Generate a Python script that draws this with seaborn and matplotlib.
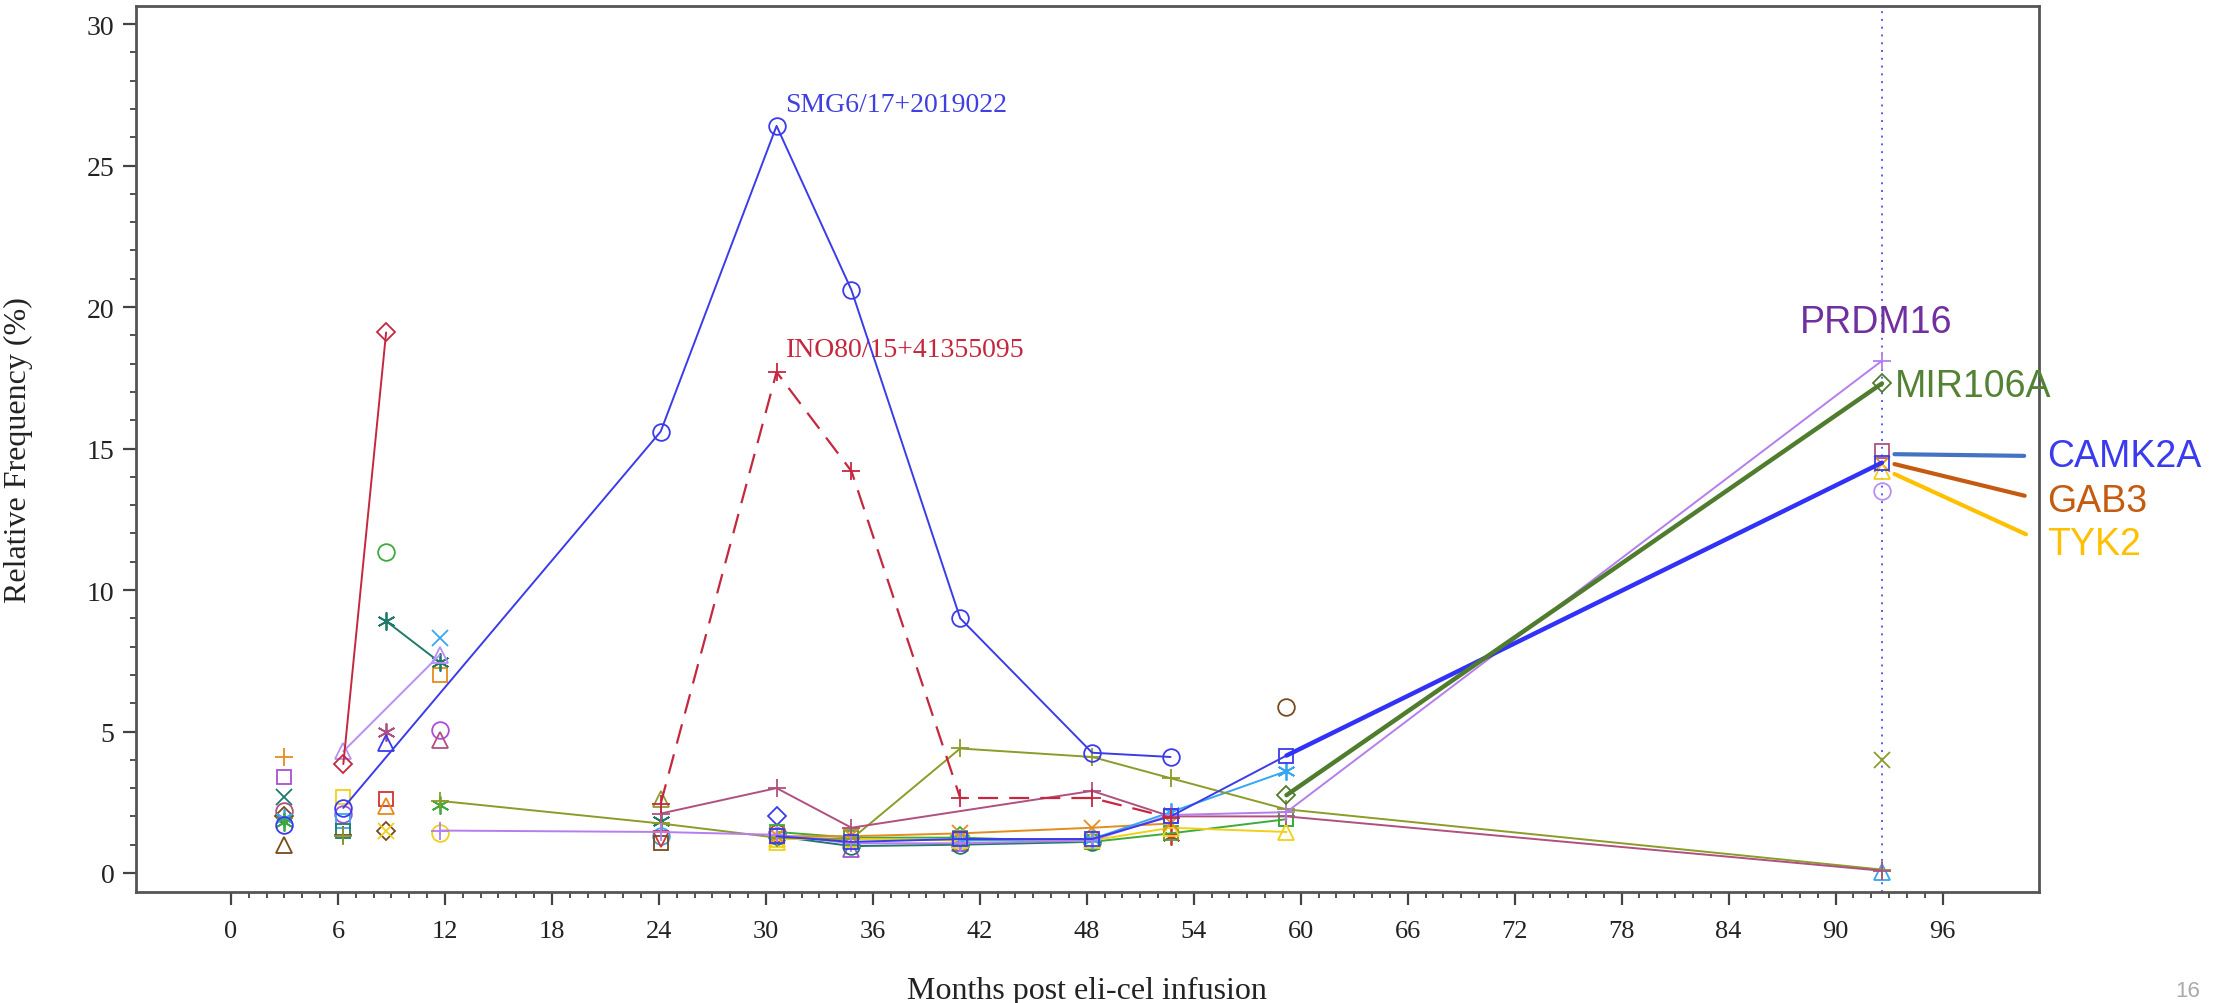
import matplotlib
matplotlib.use('Agg')
import seaborn as sns
import matplotlib.pyplot as plt

sns.set_theme(style='ticks')
plt.rcParams['font.family'] = ['Liberation Serif', 'DejaVu Serif']

# ---- data: months post infusion / relative frequency (%) ----
last_visit = 92.6

smg6_x = [6.3, 24.1, 30.6, 34.8, 40.9, 48.3, 52.7]
smg6_y = [2.3, 15.6, 26.4, 20.6, 9.0, 4.25, 4.1]

ino80_x = [24.1, 30.6, 34.8, 40.9, 48.3, 52.7]
ino80_y = [2.45, 17.7, 14.2, 2.65, 2.65, 1.95]

reddiam_x = [6.3, 8.7]
reddiam_y = [3.85, 19.1]

tealstar_x = [8.7, 11.7]
tealstar_y = [8.9, 7.45]

lavtri_x = [6.3, 11.7]
lavtri_y = [4.3, 7.7]

olive_x = [11.7, 24.1, 30.6, 34.8, 40.9, 48.3, 52.7, 59.2, 92.6]
olive_y = [2.55, 1.75, 1.25, 1.2, 4.4, 4.1, 3.35, 2.25, 0.12]

mauve_x = [24.1, 30.6, 34.8, 48.3, 52.7, 59.2, 92.6]
mauve_y = [2.1, 3.0, 1.6, 2.9, 2.0, 2.0, 0.08]

prdm16_x = [11.7, 24.1, 30.6, 34.8, 40.9, 48.3, 52.7, 59.2, 92.6]
prdm16_y = [1.5, 1.45, 1.35, 1.05, 1.05, 1.15, 2.05, 2.15, 18.1]

camk2a_x = [30.6, 34.8, 40.9, 48.3, 52.7, 59.2, 92.6]
camk2a_y = [1.3, 1.1, 1.2, 1.2, 2.0, 4.15, 14.5]

mir106a_x = [59.2, 92.6]
mir106a_y = [2.75, 17.3]

ltblue_x = [40.9, 48.3, 52.7, 59.2]
ltblue_y = [1.15, 1.2, 2.15, 3.6]

orange_x = [30.6, 34.8, 40.9, 48.3, 52.7]
orange_y = [1.3, 1.3, 1.4, 1.6, 1.75]

yellow_x = [30.6, 34.8, 40.9, 48.3, 52.7, 59.2]
yellow_y = [1.2, 1.2, 1.15, 1.15, 1.6, 1.45]

green_x = [30.6, 34.8, 40.9, 48.3, 52.7, 59.2]
green_y = [1.45, 1.25, 1.25, 1.1, 1.4, 1.9]

teal_x = [30.6, 34.8, 40.9, 48.3]
teal_y = [1.3, 0.95, 1.0, 1.1]

# single-visit clones
dot_month = [3.0, 3.0, 3.0, 3.0, 3.0, 3.0, 3.0, 3.0, 3.0,
             6.3, 6.3, 6.3, 6.3, 6.3, 6.3,
             8.7, 8.7, 8.7, 8.7, 8.7, 8.7, 8.7,
             11.7, 11.7, 11.7, 11.7, 11.7, 11.7,
             24.1, 24.1, 24.1, 24.1, 24.1,
             30.6, 30.6, 30.6,
             34.8, 34.8,
             40.9, 40.9, 40.9,
             52.7, 52.7,
             59.2, 59.2,
             92.6, 92.6, 92.6, 92.6, 92.6, 92.6]
dot_value = [4.1, 3.4, 2.7, 2.2, 2.0, 1.95, 1.8, 1.7, 1.0,
             2.7, 2.1, 1.85, 1.5, 1.35, 1.3,
             11.35, 5.0, 4.6, 2.6, 2.35, 1.5, 1.5,
             8.3, 7.0, 5.05, 4.7, 2.4, 1.4,
             2.6, 1.85, 1.3, 1.2, 1.05,
             2.0, 1.4, 1.1,
             1.3, 0.85,
             1.1, 1.3, 1.05,
             2.0, 1.3,
             5.85, 1.9,
             14.9, 14.45, 14.2, 13.5, 4.0, 0.05]
dot_group = ['orange+', 'purple_s', 'teal_x', 'mauve_o', 'brown_D', 'ltblue_ast', 'green_ast', 'blue_o', 'brown_^',
             'yellow_s', 'purple_o', 'ltblue_s', 'teal_s', 'brown+', 'olive+',
             'green_o', 'mauve_ast', 'blue_^', 'red_s', 'orange_^', 'brown_D', 'yellow_x',
             'ltblue_x', 'orange_s', 'purple_o', 'mauve_^', 'green_ast', 'yellow_o',
             'olive_^', 'teal_ast', 'ltblue_o', 'red_v', 'brown_s',
             'blue_D', 'red_o', 'yellow_^',
             'olive_s', 'purple_^',
             'orange_o', 'green_D', 'purple_^',
             'purple_s', 'red_ast',
             'brown_o', 'green_s',
             'mauve_s', 'orange_x', 'yellow_^', 'lav_o', 'olive_x', 'ltblue_^']

# ---- styles ----
COL = {'blue': '#3b3bea', 'crimson': '#c4283f', 'teal': '#1f7a6b', 'lav': '#b78ff5',
       'olive': '#8c9b2a', 'mauve': '#b0507f', 'violet': '#b57ded', 'ltblue': '#36a6f2',
       'orange': '#e48c1c', 'yellow': '#f0d018', 'green': '#3daa3d', 'brown': '#7b4a1c',
       'purple': '#a84fd6', 'red': '#d03434'}
AST = (6, 2, 0)
MK = {'o': 'o', 's': 's', 'x': 'x', '+': '+', 'D': 'D', '^': '^', 'v': 'v', 'ast': AST}
MS = {'o': 12, 's': 10.5, 'x': 11, '+': 13, 'D': 9, '^': 12, 'v': 12, AST: 13}


def draw(ax, xs, ys, color, marker, ls='-', lw=1.4, z=3):
    sns.lineplot(x=xs, y=ys, ax=ax, color=color, marker=marker, linestyle=ls,
                 linewidth=lw, markersize=MS[marker], markerfacecolor='none',
                 markeredgecolor=color, markeredgewidth=1.3, errorbar=None,
                 sort=False, zorder=z, legend=False)


fig = plt.figure(figsize=(22.29, 10.04), dpi=100)
ax = fig.add_axes([0.061, 0.1106, 0.8537, 0.8825])

# background clones
for gkey, m, v in zip(dot_group, dot_month, dot_value):
    if '+' in gkey:
        cname, mname = gkey[:-1], '+'
    else:
        cname, mname = gkey.split('_')
    draw(ax, [m], [v], COL[cname], MK[mname], z=2)

# bundle of low-level clones
draw(ax, teal_x, teal_y, COL['teal'], 'o', z=2)
draw(ax, green_x, green_y, COL['green'], 's', z=2)
draw(ax, yellow_x, yellow_y, COL['yellow'], '^', z=2)
draw(ax, orange_x, orange_y, COL['orange'], 'x', z=2)
draw(ax, ltblue_x, ltblue_y, COL['ltblue'], AST, z=2)
draw(ax, olive_x, olive_y, COL['olive'], '+', z=2)
draw(ax, mauve_x, mauve_y, COL['mauve'], '+', z=3)
draw(ax, prdm16_x, prdm16_y, COL['violet'], '+', z=3)
draw(ax, camk2a_x, camk2a_y, COL['blue'], 's', z=3)
draw(ax, tealstar_x, tealstar_y, COL['teal'], AST, z=3)
draw(ax, lavtri_x, lavtri_y, COL['lav'], '^', z=3)
draw(ax, reddiam_x, reddiam_y, COL['crimson'], 'D', z=3)
draw(ax, smg6_x, smg6_y, COL['blue'], 'o', z=4)
draw(ax, ino80_x, ino80_y, COL['crimson'], '+', ls=(0, (9, 5)), lw=1.6, z=4)

# highlighted clones (thick overlays)
sns.lineplot(x=camk2a_x[-2:], y=camk2a_y[-2:], ax=ax, color='#3131f7', linewidth=3.2,
             errorbar=None, sort=False, zorder=5, legend=False)
draw(ax, mir106a_x, mir106a_y, '#4f7c2d', 'D', lw=3.2, z=5)

ax.axvline(last_visit, color='#5a5aff', linestyle=(0, (1, 3)), linewidth=1.4, zorder=1)

# clone annotations
ax.text(31.1, 27.15, 'SMG6/17+2019022', color='#4040e0', fontsize=20, va='center', ha='left')
ax.text(31.1, 18.5, 'INO80/15+41355095', color='#c4283f', fontsize=20, va='center', ha='left')

sans = ['Liberation Sans', 'DejaVu Sans']
ax.text(88.0, 19.47, 'PRDM16', color='#7030a0', fontsize=27, family=sans, va='center', ha='left')
ax.text(93.3, 17.2, 'MIR106A', color='#548235', fontsize=27, family=sans, va='center', ha='left')
leaders = [('CAMK2A', 14.8, 14.73, '#3a3aee', '#4472c4'),
           ('GAB3', 14.45, 13.14, '#c55a11', '#c55a11'),
           ('TYK2', 14.1, 11.63, '#ffc000', '#ffc000')]
for lab, y0, y1, tc, lc in leaders:
    ax.annotate(lab, xy=(93.3, y0), xytext=(101.85, y1), color=tc, fontsize=27, family=sans,
                va='center', ha='left', annotation_clip=False,
                arrowprops=dict(arrowstyle='-', color=lc, lw=3, shrinkA=14, shrinkB=0,
                                relpos=(0, 0.5)))

# axes cosmetics
ax.set_xlim(-5.33, 101.4)
ax.set_ylim(-0.67, 30.64)
ax.set_xticks(range(0, 97, 6))
ax.set_xticks(range(0, 97), minor=True)
ax.set_yticks(range(0, 31, 5))
ax.set_yticks(range(0, 31), minor=True)
ax.tick_params(which='major', direction='out', length=9.5, width=1.6, color='#444444')
ax.tick_params(which='minor', direction='out', length=4.5, width=1.3, color='#444444')
ax.tick_params(axis='x', which='major', labelsize=19, pad=11, labelcolor='#222222')
ax.tick_params(axis='y', which='major', labelsize=20, pad=6, labelcolor='#222222')
for s in ax.spines.values():
    s.set_color('#555555')
    s.set_linewidth(2)
ax.set_xlabel('Months post eli-cel infusion', fontsize=23, color='#222222')
ax.set_ylabel('Relative Frequency (%)', fontsize=23, color='#222222')
ax.xaxis.set_label_coords(0.5, -0.095)
ax.yaxis.set_label_coords(-0.054, 0.5)

# slide page number
fig.text(0.9815, 0.002, '16', fontsize=16, color='#aaaaaa', family=sans, va='bottom', ha='center')

fig.savefig('out.png', dpi=100)
